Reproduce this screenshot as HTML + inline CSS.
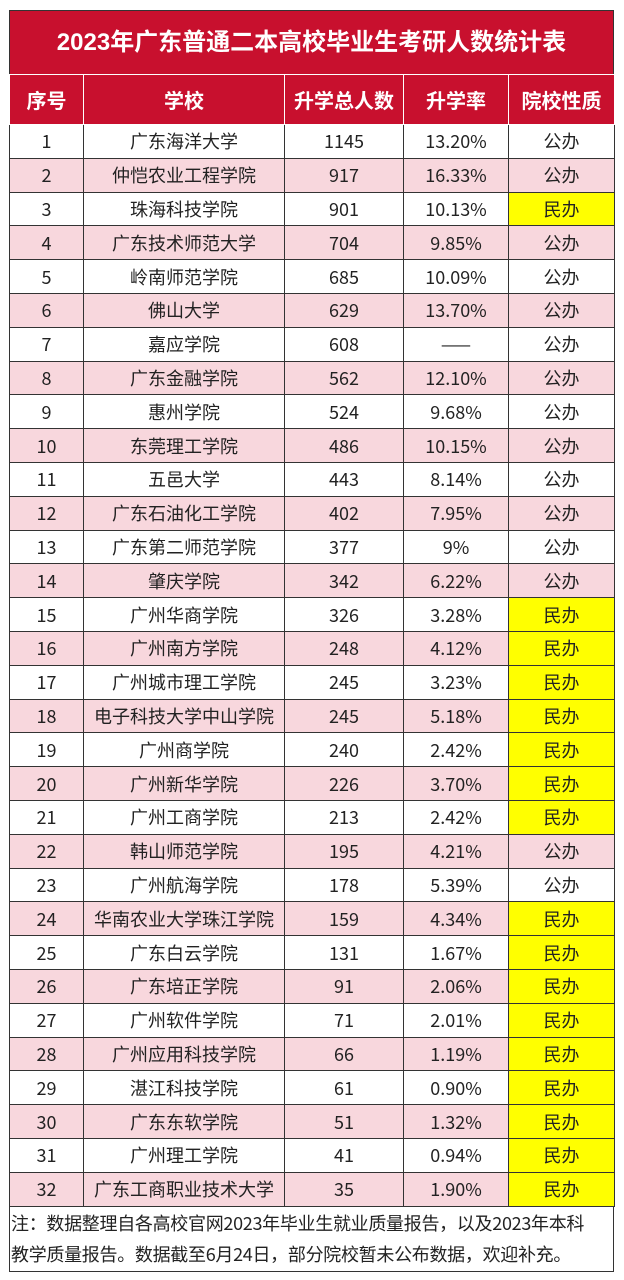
<!DOCTYPE html>
<html><head><meta charset="utf-8"><style>
body{margin:0;width:624px;height:1280px;background:#fff;font-family:"Liberation Sans","Noto Sans CJK SC",sans-serif;overflow:hidden;position:relative}
.title{position:absolute;left:9px;top:10px;width:605px;height:64px;background:#c8102e;color:#fff;font-weight:bold;font-size:24px;line-height:64px;text-align:center;box-sizing:border-box;border:1px solid #333;border-bottom:none}
table{position:absolute;left:9px;top:74px;border-collapse:collapse;width:605px;table-layout:fixed}
th{background:#c8102e;color:#fff;font-size:20px;font-weight:bold;height:49px;border:1.5px solid #fff;padding:0}
td{height:32.8px;padding:0;text-align:center;font-size:18px;color:#222;border:1px solid #333;font-family:"Noto Sans CJK SC","Liberation Sans",sans-serif;line-height:1}
tr:nth-child(odd) td{background:#f8d7dd}
tr:nth-child(even) td{background:#fff}
td.y{background:#ffff00!important}
.note{position:absolute;left:9px;top:1206px;width:605px;height:66px;box-sizing:border-box;border:1px solid #333;border-top:none;font-size:18px;line-height:31px;padding:2px 1px;color:#222;white-space:nowrap;overflow:hidden;font-family:"Noto Sans CJK SC",sans-serif;letter-spacing:-0.3px}
</style></head><body>
<div class="title">2023年广东普通二本高校毕业生考研人数统计表</div>
<table>
<colgroup><col style="width:74px"><col style="width:201px"><col style="width:119px"><col style="width:105px"><col style="width:106px"></colgroup>
<tr><th>序号</th><th>学校</th><th>升学总人数</th><th>升学率</th><th>院校性质</th></tr>
<tr><td>1</td><td>广东海洋大学</td><td>1145</td><td>13.20%</td><td>公办</td></tr>
<tr><td>2</td><td>仲恺农业工程学院</td><td>917</td><td>16.33%</td><td>公办</td></tr>
<tr><td>3</td><td>珠海科技学院</td><td>901</td><td>10.13%</td><td class="y">民办</td></tr>
<tr><td>4</td><td>广东技术师范大学</td><td>704</td><td>9.85%</td><td>公办</td></tr>
<tr><td>5</td><td>岭南师范学院</td><td>685</td><td>10.09%</td><td>公办</td></tr>
<tr><td>6</td><td>佛山大学</td><td>629</td><td>13.70%</td><td>公办</td></tr>
<tr><td>7</td><td>嘉应学院</td><td>608</td><td>——</td><td>公办</td></tr>
<tr><td>8</td><td>广东金融学院</td><td>562</td><td>12.10%</td><td>公办</td></tr>
<tr><td>9</td><td>惠州学院</td><td>524</td><td>9.68%</td><td>公办</td></tr>
<tr><td>10</td><td>东莞理工学院</td><td>486</td><td>10.15%</td><td>公办</td></tr>
<tr><td>11</td><td>五邑大学</td><td>443</td><td>8.14%</td><td>公办</td></tr>
<tr><td>12</td><td>广东石油化工学院</td><td>402</td><td>7.95%</td><td>公办</td></tr>
<tr><td>13</td><td>广东第二师范学院</td><td>377</td><td>9%</td><td>公办</td></tr>
<tr><td>14</td><td>肇庆学院</td><td>342</td><td>6.22%</td><td>公办</td></tr>
<tr><td>15</td><td>广州华商学院</td><td>326</td><td>3.28%</td><td class="y">民办</td></tr>
<tr><td>16</td><td>广州南方学院</td><td>248</td><td>4.12%</td><td class="y">民办</td></tr>
<tr><td>17</td><td>广州城市理工学院</td><td>245</td><td>3.23%</td><td class="y">民办</td></tr>
<tr><td>18</td><td>电子科技大学中山学院</td><td>245</td><td>5.18%</td><td class="y">民办</td></tr>
<tr><td>19</td><td>广州商学院</td><td>240</td><td>2.42%</td><td class="y">民办</td></tr>
<tr><td>20</td><td>广州新华学院</td><td>226</td><td>3.70%</td><td class="y">民办</td></tr>
<tr><td>21</td><td>广州工商学院</td><td>213</td><td>2.42%</td><td class="y">民办</td></tr>
<tr><td>22</td><td>韩山师范学院</td><td>195</td><td>4.21%</td><td>公办</td></tr>
<tr><td>23</td><td>广州航海学院</td><td>178</td><td>5.39%</td><td>公办</td></tr>
<tr><td>24</td><td>华南农业大学珠江学院</td><td>159</td><td>4.34%</td><td class="y">民办</td></tr>
<tr><td>25</td><td>广东白云学院</td><td>131</td><td>1.67%</td><td class="y">民办</td></tr>
<tr><td>26</td><td>广东培正学院</td><td>91</td><td>2.06%</td><td class="y">民办</td></tr>
<tr><td>27</td><td>广州软件学院</td><td>71</td><td>2.01%</td><td class="y">民办</td></tr>
<tr><td>28</td><td>广州应用科技学院</td><td>66</td><td>1.19%</td><td class="y">民办</td></tr>
<tr><td>29</td><td>湛江科技学院</td><td>61</td><td>0.90%</td><td class="y">民办</td></tr>
<tr><td>30</td><td>广东东软学院</td><td>51</td><td>1.32%</td><td class="y">民办</td></tr>
<tr><td>31</td><td>广州理工学院</td><td>41</td><td>0.94%</td><td class="y">民办</td></tr>
<tr><td>32</td><td>广东工商职业技术大学</td><td>35</td><td>1.90%</td><td class="y">民办</td></tr>
</table>
<div class="note">注：数据整理自各高校官网2023年毕业生就业质量报告，以及2023年本科<br>教学质量报告。数据截至6月24日，部分院校暂未公布数据，欢迎补充。</div>
</body></html>
